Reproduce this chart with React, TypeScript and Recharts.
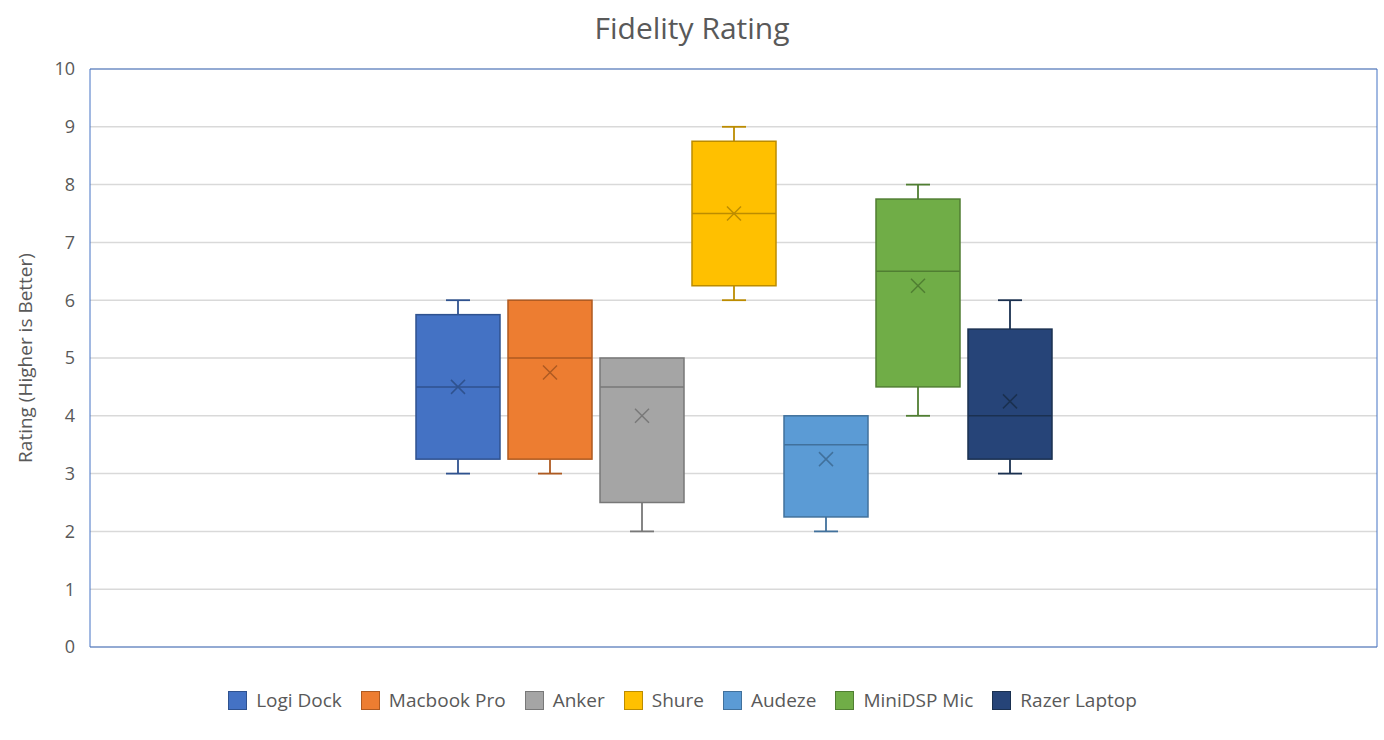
import React from "react"
import { ComposedChart, Bar, XAxis, YAxis, CartesianGrid, Legend, ReferenceArea } from "recharts"

// device names and box-plot stats
const devices = ["Logi Dock", "Macbook Pro", "Anker", "Shure", "Audeze", "MiniDSP Mic", "Razer Laptop"]
const mins = [3, 3, 2, 6, 2, 4, 3]
const q1s = [3.25, 3.25, 2.5, 6.25, 2.25, 4.5, 3.25]
const medians = [4.5, 5, 4.5, 7.5, 3.5, 6.5, 4]
const q3s = [5.75, 6, 5, 8.75, 4, 7.75, 5.5]
const maxs = [6, 6, 5, 9, 4, 8, 6]
const means = [4.5, 4.75, 4, 7.5, 3.25, 6.25, 4.25]
const yTicks = [0, 1, 2, 3, 4, 5, 6, 7, 8, 9, 10]

const fills = ["#4472C4", "#ED7D31", "#A5A5A5", "#FFC000", "#5B9BD5", "#70AD47", "#264478"]
const strokes = ["#2F528F", "#AE5A21", "#787878", "#BC8C00", "#41719C", "#507E32", "#1A3050"]

const FONT = "'Open Sans', sans-serif"
const TEXT = "#595959"

// one category row, each device a [q1, q3] range
const row: Record<string, any> = { name: "Fidelity" }
devices.forEach((d, i) => {
  row[d] = [q1s[i], q3s[i]]
})
const data = [row]

function BoxShape(props: any) {
  const { x, y, width, height, i } = props
  const top = Math.min(y, y + height)
  const h = Math.abs(height)
  const perUnit = h / (q3s[i] - q1s[i])
  const toY = (v: number) => top + (q3s[i] - v) * perUnit
  const cx = x + width / 2
  const stroke = strokes[i]
  const cap = 12
  const m = 7
  const my = toY(means[i])
  return (
    <g>
      {maxs[i] > q3s[i] && (
        <g stroke={stroke} strokeWidth={1.8}>
          <line x1={cx} x2={cx} y1={toY(maxs[i])} y2={top} />
          <line x1={cx - cap} x2={cx + cap} y1={toY(maxs[i])} y2={toY(maxs[i])} />
        </g>
      )}
      {mins[i] < q1s[i] && (
        <g stroke={stroke} strokeWidth={1.8}>
          <line x1={cx} x2={cx} y1={top + h} y2={toY(mins[i])} />
          <line x1={cx - cap} x2={cx + cap} y1={toY(mins[i])} y2={toY(mins[i])} />
        </g>
      )}
      <rect x={x} y={top} width={width} height={h} fill={fills[i]} stroke={stroke} strokeWidth={1.5} />
      <line x1={x} x2={x + width} y1={toY(medians[i])} y2={toY(medians[i])} stroke={stroke} strokeWidth={1.5} />
      <g stroke={stroke} strokeWidth={1.5}>
        <line x1={cx - m} x2={cx + m} y1={my - m} y2={my + m} />
        <line x1={cx - m} x2={cx + m} y1={my + m} y2={my - m} />
      </g>
    </g>
  )
}

function LegendContent(props: any) {
  const items = [...(props.payload || [])].sort((a: any, b: any) => devices.indexOf(a.value) - devices.indexOf(b.value))
  return (
    <div style={{ display: "flex", justifyContent: "center", alignItems: "center", height: 26, fontFamily: FONT, fontSize: 19, color: TEXT }}>
      {items.map((it: any) => {
        const i = devices.indexOf(it.value)
        return (
          <div key={it.value} style={{ display: "flex", alignItems: "center", marginRight: 19 }}>
            <span style={{ width: 17, height: 17, background: fills[i], border: `1px solid ${strokes[i]}`, marginRight: 9, display: "inline-block" }} />
            <span>{it.value}</span>
          </div>
        )
      })}
    </div>
  )
}

function YLabel(props: any) {
  const vb = props.viewBox || {}
  const lx = 25
  const ly = vb.y + vb.height / 2
  return (
    <text x={lx} y={ly} transform={`rotate(-90, ${lx}, ${ly})`} textAnchor="middle" dominantBaseline="central" fill={TEXT} fontSize={19} fontFamily={FONT}>
      Rating (Higher is Better)
    </text>
  )
}

export default function App() {
  return (
    <div style={{ position: "absolute", left: 0, top: 0, width: 1384, height: 740, background: "#fff" }}>
      <div style={{ position: "absolute", top: 8, left: 0, width: 1384, height: 40, lineHeight: "40px", textAlign: "center", fontFamily: FONT, fontSize: 30, color: TEXT, zIndex: 1 }}>
        Fidelity Rating
      </div>
      <ComposedChart width={1384} height={740} data={data} margin={{ top: 69, right: 7, left: 0, bottom: 27 }} barGap={8} barSize={84}>
        <CartesianGrid vertical={false} stroke="#D9D9D9" strokeWidth={1.5} />
        <XAxis dataKey="name" tick={false} axisLine={false} tickLine={false} height={40} />
        <YAxis
          width={90}
          domain={[0, 10]}
          ticks={yTicks}
          axisLine={false}
          tickLine={false}
          tickMargin={9}
          tick={{ fill: TEXT, fontSize: 18, fontFamily: FONT }}
          label={<YLabel />}
        />
        <ReferenceArea y1={0} y2={10} fill="none" stroke="#4472C4" strokeWidth={1} />
        {devices.map((d, i) => (
          <Bar key={d} dataKey={d} name={d} fill={fills[i]} isAnimationActive={false} shape={(p: any) => <BoxShape {...p} i={i} />} />
        ))}
        <Legend content={<LegendContent />} wrapperStyle={{ left: 0, width: 1384, bottom: 27 }} />
      </ComposedChart>
    </div>
  )
}
